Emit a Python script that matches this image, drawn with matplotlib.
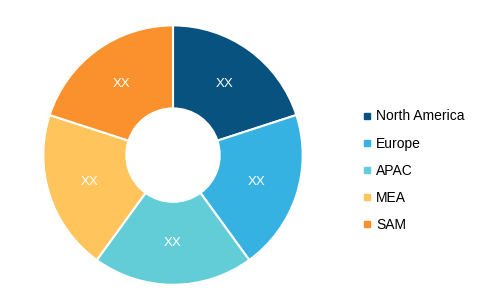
import matplotlib.pyplot as plt
from matplotlib.lines import Line2D

plt.rcParams['font.family'] = ['Liberation Sans', 'DejaVu Sans']

regions = ["North America", "Europe", "APAC", "MEA", "SAM"]
shares = [20, 20, 20, 20, 20]
labels = ["XX", "XX", "XX", "XX", "XX"]
colors = ["#08527F", "#35B1E2", "#62CDD7", "#FFC55C", "#FA912C"]

fig = plt.figure(figsize=(5, 3.05), dpi=100)
ax = fig.add_axes([0.084, 0.062, 0.524, 0.859])

wedges, texts = ax.pie(shares, labels=labels, colors=colors, startangle=90,
                       counterclock=False, labeldistance=0.68,
                       wedgeprops=dict(width=0.64, edgecolor="white", linewidth=1.5),
                       textprops=dict(color="white", fontsize=9.5,
                                      ha="center", va="center"))
ax.set_xlim(-1.01, 1.01)
ax.set_ylim(-1.01, 1.01)
ax.set_aspect("equal")

handles = [Line2D([], [], marker="s", linestyle="", markersize=5,
                  markerfacecolor=c, markeredgecolor=c) for c in colors]
fig.legend(handles, regions, loc="center left", bbox_to_anchor=(0.715, 0.44),
           frameon=False, fontsize=10, handlelength=0.6, handletextpad=0.35,
           labelspacing=0.95, borderaxespad=0)

fig.savefig("out.png", dpi=100)
